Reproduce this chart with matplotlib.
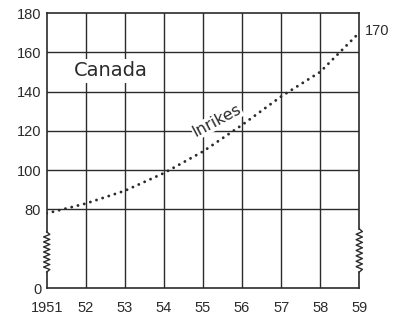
import numpy as np
import matplotlib
matplotlib.use("Agg")
import matplotlib.pyplot as plt

plt.rcParams['font.family'] = ['Liberation Sans', 'DejaVu Sans']

# data (Canada, Inrikes)
years = [1951, 1952, 1953, 1954, 1955, 1956, 1957, 1958, 1959]
values = [78, 83, 89.5, 98.5, 109.5, 123, 137.5, 150, 170]
year_labels = ["1951", "52", "53", "54", "55", "56", "57", "58", "59"]
y_ticks = [0, 80, 100, 120, 140, 160, 180]
end_label = "170"

ink = "#2b2b2b"

# broken y axis: 0..60 squeezed into one grid cell
def fwd(v):
    v = np.asarray(v, dtype=float)
    return np.where(v >= 60, v, 40 + v / 3)

def inv(d):
    d = np.asarray(d, dtype=float)
    return np.where(d >= 60, d, (d - 40) * 3)

fig = plt.figure(figsize=(3.97, 3.21), dpi=100)
ax = fig.add_axes([0.1176, 0.1028, 0.7874, 0.8567])
ax.set_yscale('function', functions=(fwd, inv))
ax.set_xlim(years[0], years[-1])
ax.set_ylim(0, 180)

# grid
for yr in years[1:-1]:
    ax.axvline(yr, color=ink, lw=1.0, zorder=1)
for v in y_ticks[1:-1]:
    ax.axhline(v, color=ink, lw=1.0, zorder=1)

ax.plot(years, values, color=ink, lw=2.1, linestyle=(0, (0.01, 2.2)),
        dash_capstyle='round', zorder=3)

ax.set_xticks(years)
ax.set_xticklabels(year_labels)
ax.set_yticks(y_ticks)
ax.set_yticklabels([str(v) for v in y_ticks])
ax.tick_params(length=0, labelsize=10.5, colors=ink)
ax.tick_params(axis='x', pad=9.5)
ax.tick_params(axis='y', pad=4)

# spines: left/right drawn by hand with a break zigzag
for s in ['left', 'right']:
    ax.spines[s].set_visible(False)
for s in ['top', 'bottom']:
    ax.spines[s].set_color(ink)
    ax.spines[s].set_linewidth(1.2)

def broken_side(x0, lo, hi):
    ax.plot([x0, x0], [hi, 1], transform=ax.transAxes, color=ink, lw=1.2, clip_on=False)
    ax.plot([x0, x0], [0, lo], transform=ax.transAxes, color=ink, lw=1.2, clip_on=False)
    n = 16
    ys = np.linspace(lo, hi, n + 1)
    xs = np.full(n + 1, float(x0))
    xs[1:-1:2] += 0.01
    xs[2:-1:2] -= 0.01
    ax.plot(xs, ys, transform=ax.transAxes, color=ink, lw=1.0, clip_on=False)

broken_side(0, 0.058, 0.204)
broken_side(1, 0.058, 0.215)

ax.text(1952.63, 150.5, "Canada", fontsize=14, family=['DejaVu Sans'], color=ink,
        ha='center', va='center', zorder=4,
        bbox=dict(facecolor='white', edgecolor='none', pad=1.5))
ax.text(1955.36, 125, "Inrikes", fontsize=11.5, family=['DejaVu Sans'], color=ink,
        rotation=28, rotation_mode='anchor', ha='center', va='center', zorder=4,
        bbox=dict(facecolor='white', edgecolor='none', pad=0.3))
ax.annotate(end_label, (years[-1], values[-1]), xytext=(4, 1.5),
            textcoords='offset points', fontsize=10.5, color=ink,
            ha='left', va='center', annotation_clip=False)

fig.savefig("out.png", dpi=100, facecolor='white')
